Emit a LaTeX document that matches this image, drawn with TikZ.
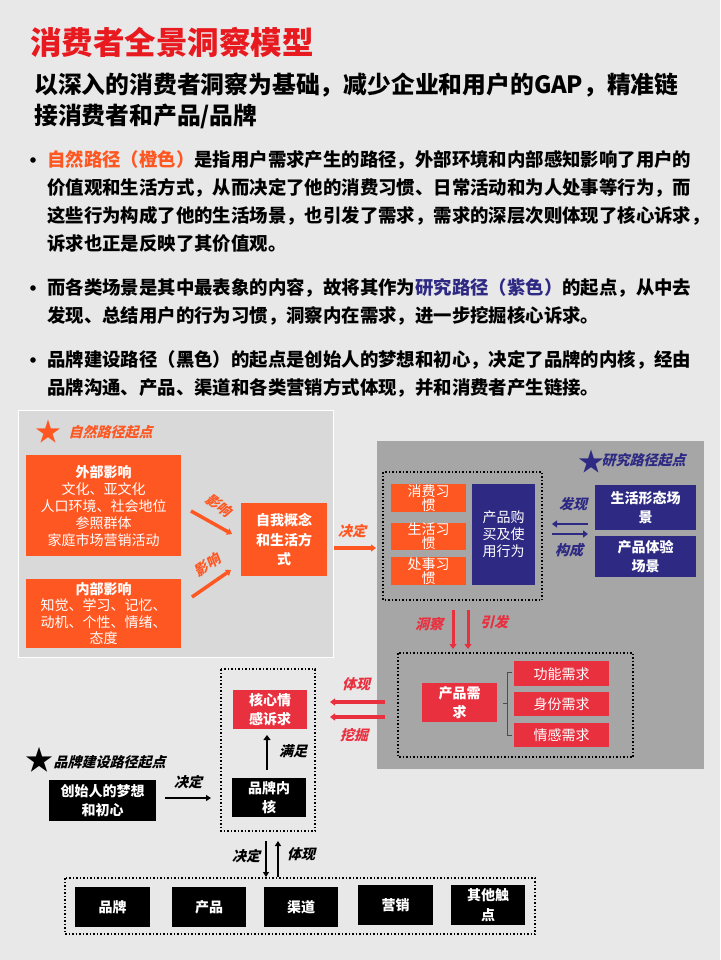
\documentclass[tikz,border=0pt]{standalone}
\usepackage{fontspec}
\setmainfont{Noto Sans CJK SC}
\newfontfamily\cjkit[FakeSlant=0.25]{Noto Sans CJK SC}
\usetikzlibrary{arrows.meta}
\definecolor{bg}{HTML}{E8E8E8}
\definecolor{pan}{HTML}{D9D9D9}
\definecolor{dpan}{HTML}{A6A6A6}
\definecolor{org}{HTML}{FF5722}
\definecolor{ttl}{HTML}{E8191F}
\definecolor{navy}{HTML}{2E2A84}
\definecolor{rd}{HTML}{E8303F}
\tikzset{
 bx/.style={anchor=north west,inner sep=0pt,align=center,text=white,font=\fontsize{14}{17}\selectfont},
 bbx/.style={bx,font=\bfseries\fontsize{14}{19.5}\selectfont},
 lab/.style={font=\cjkit\bfseries\fontsize{14}{15}\selectfont},
 dotbox/.style={draw=black,line width=1.5pt,dotted},
 ar/.style={-{Triangle[length=5pt,width=7pt]},line width=2.5pt},
 bul/.style={anchor=west,font=\bfseries\fontsize{18.4}{20}\selectfont,inner sep=0pt}
}
\begin{document}
\begin{tikzpicture}[x=1pt,y=-1pt]
\fill[bg] (0,0) rectangle (720,960);
\useasboundingbox (0,0) rectangle (720,960);
\node[anchor=west,text=ttl,font=\bfseries\fontsize{31.5}{32}\selectfont,inner sep=0] (title) at (30,42) {消费者全景洞察模型};
\node[anchor=west,font=\bfseries\fontsize{23.8}{26}\selectfont,inner sep=0] (s1) at (34,85) {以深入的消费者洞察为基础，减少企业和用户的GAP，精准链};
\node[anchor=west,font=\bfseries\fontsize{23.8}{26}\selectfont,inner sep=0] (s2) at (34,116) {接消费者和产品/品牌};
\foreach \y in {160,288,360}{\fill (33,\y) circle (2.8pt);}
\node[bul] (b1) at (47,160) {\textcolor{org}{自然路径（橙色）}是指用户需求产生的路径，外部环境和内部感知影响了用户的};
\node[bul] (b2) at (47,188) {价值观和生活方式，从而决定了他的消费习惯、日常活动和为人处事等行为，而};
\node[bul] (b3) at (47,216) {这些行为构成了他的生活场景，也引发了需求，需求的深层次则体现了核心诉求，};
\node[bul] (b4) at (47,244) {诉求也正是反映了其价值观。};
\node[bul] (b5) at (47,288) {而各类场景是其中最表象的内容，故将其作为\textcolor{navy}{研究路径（紫色）}的起点，从中去};
\node[bul] (b6) at (47,316) {发现、总结用户的行为习惯，洞察内在需求，进一步挖掘核心诉求。};
\node[bul] (b7) at (47,360) {品牌建设路径（黑色）的起点是创始人的梦想和初心，决定了品牌的内核，经由};
\node[bul] (b8) at (47,388) {品牌沟通、产品、渠道和各类营销方式体现，并和消费者产生链接。};
% left panel
\draw[white,fill=pan,line width=0.8pt] (18,410) rectangle (333,657);
\node[text=org,font=\fontsize{26}{26}\selectfont,inner sep=0] (st1) at (48,432) {★};
\node[lab,text=org,anchor=west] (st1l) at (65,432) {自然路径起点};
\node[bx,fill=org,minimum width=155pt,minimum height=101pt,text width=150pt,font=\fontsize{14}{17}\selectfont] (ext) at (26,455) {\textbf{外部影响}\\文化、亚文化\\人口环境、社会地位\\参照群体\\家庭市场营销活动};
\node[bx,fill=org,minimum width=155pt,minimum height=69pt,text width=150pt,font=\fontsize{14}{16.5}\selectfont] (int) at (26,579) {\textbf{内部影响}\\知觉、学习、记忆、\\动机、个性、情绪、\\态度};
\node[bbx,fill=org,minimum width=86pt,minimum height=73pt,text width=80pt] (self) at (241,503) {自我概念\\和生活方\\式};
\coordinate (e1) at (191,511); \coordinate (e2) at (232,534);
\coordinate (i1) at (192,597); \coordinate (i2) at (231,570);
\draw[ar,org,line width=3.5pt] (e1) -- (e2);
\node[lab,text=org,rotate=-35] (y1) at (219,505) {影响};
\draw[ar,org,line width=3.5pt] (i1) -- (i2);
\node[lab,text=org,rotate=35] (y2) at (207,565) {影响};
\coordinate (ja) at (334,548); \coordinate (jb) at (376,548);
\draw[ar,org,line width=3.5pt] (ja) -- (jb);
\node[lab,text=org] (jdo) at (352,531) {决定};
% right panel
\fill[dpan] (377,441) rectangle (704,769);
\node[text=navy,font=\fontsize{26}{26}\selectfont,inner sep=0] (st2) at (591,462) {★};
\node[lab,text=navy,anchor=west] (st2l) at (598,460) {研究路径起点};
\draw[dotbox] (383,472) rectangle (542,600);
\node[bx,fill=org,minimum width=75pt,minimum height=28pt,font=\fontsize{14}{14}\selectfont] (h1) at (391,484) {消费习\\惯};
\node[bx,fill=org,minimum width=75pt,minimum height=26pt,font=\fontsize{14}{14}\selectfont] (h2) at (391,523) {生活习\\惯};
\node[bx,fill=org,minimum width=75pt,minimum height=28pt,font=\fontsize{14}{14}\selectfont] (h3) at (391,557) {处事习\\惯};
\node[bx,fill=navy,minimum width=63pt,minimum height=101pt,font=\fontsize{14}{17}\selectfont] (buy) at (472,484) {产品购\\买及使\\用行为};
\node[bbx,fill=navy,minimum width=101pt,minimum height=45pt] (life) at (595,485) {生活形态场\\景};
\node[bbx,fill=navy,minimum width=101pt,minimum height=41pt] (exp) at (595,536) {产品体验\\场景};
\coordinate (fl) at (552,524); \coordinate (fr) at (588,524);
\coordinate (gl) at (552,534); \coordinate (gr) at (588,534);
\draw[ar,navy,line width=2.5pt] (fr) -- (fl);
\draw[ar,navy,line width=2.5pt] (gl) -- (gr);
\node[lab,text=navy] (fx) at (573,504) {发现};
\node[lab,text=navy] (gc) at (569,550) {构成};
\coordinate (d1a) at (453,610); \coordinate (d1b) at (453,649);
\coordinate (d2a) at (468,610); \coordinate (d2b) at (468,649);
\draw[ar,rd,line width=3pt] (d1a) -- (d1b);
\draw[ar,rd,line width=3pt] (d2a) -- (d2b);
\node[lab,text=rd] (dc) at (429,624) {洞察};
\node[lab,text=rd] (yf) at (494,622) {引发};
\draw[dotbox] (398,653) rectangle (633,757);
\node[bbx,fill=rd,minimum width=75pt,minimum height=39pt] (need) at (422,683) {产品需\\求};
\node[bx,fill=rd,minimum width=95pt,minimum height=25pt] (n1) at (514,661) {功能需求};
\node[bx,fill=rd,minimum width=95pt,minimum height=24pt] (n2) at (514,692) {身份需求};
\node[bx,fill=rd,minimum width=95pt,minimum height=24pt] (n3) at (514,723) {情感需求};
\draw[black!70,line width=0.6pt] (512,672) -- (507,672) -- (507,735) -- (512,735) (507,703) -- (503,703);
% red arrows left
\coordinate (ra) at (385,702); \coordinate (rb) at (330,702);
\coordinate (rc) at (385,717); \coordinate (rd2) at (330,717);
\draw[ar,rd,line width=3.5pt] (ra) -- (rb);
\draw[ar,rd,line width=3.5pt] (rc) -- (rd2);
\node[lab,text=rd] (tx) at (356,684) {体现};
\node[lab,text=rd] (wj) at (354,735) {挖掘};
% brand core
\draw[dotbox] (221,669) rectangle (315,831);
\node[bbx,fill=rd,minimum width=74pt,minimum height=39pt] (core) at (233,690) {核心情\\感诉求};
\node[bbx,fill=black,minimum width=74pt,minimum height=39pt] (kern) at (232,778) {品牌内\\核};
\coordinate (ka) at (267,770); \coordinate (kb) at (267,735);
\draw[ar] (ka) -- (kb);
\node[lab] (mz) at (293,751) {满足};
\node[font=\fontsize{28}{28}\selectfont,inner sep=0] (st3) at (39,760) {★};
\node[lab,anchor=west] (st3l) at (50,762) {品牌建设路径起点};
\node[bbx,fill=black,minimum width=107pt,minimum height=41pt] (found) at (49,780) {创始人的梦想\\和初心};
\coordinate (fa) at (165,798); \coordinate (fb) at (211,798);
\draw[-{Triangle[length=5pt,width=6pt]},line width=1.8pt] (fa) -- (fb);
\node[lab] (jd1) at (188,782) {决定};
\coordinate (va) at (266,841); \coordinate (vb) at (266,877);
\coordinate (vc) at (278,877); \coordinate (vd) at (278,841);
\draw[-{Triangle[length=5pt,width=6pt]},line width=2.2pt] (va) -- (vb);
\draw[-{Triangle[length=5pt,width=6pt]},line width=2.2pt] (vc) -- (vd);
\node[lab] (jd2) at (246,856) {决定};
\node[lab] (tx2) at (301,854) {体现};
\draw[dotbox] (65,878) rectangle (535,934);
\node[bbx,fill=black,minimum width=75pt,minimum height=40pt] (p1) at (75,887) {品牌};
\node[bbx,fill=black,minimum width=74pt,minimum height=40pt] (p2) at (172,887) {产品};
\node[bbx,fill=black,minimum width=74pt,minimum height=40pt] (p3) at (264,887) {渠道};
\node[bbx,fill=black,minimum width=75pt,minimum height=40pt] (p4) at (358,885) {营销};
\node[bbx,fill=black,minimum width=74pt,minimum height=40pt] (p5) at (451,885) {其他触\\点};
\end{tikzpicture}
\end{document}
